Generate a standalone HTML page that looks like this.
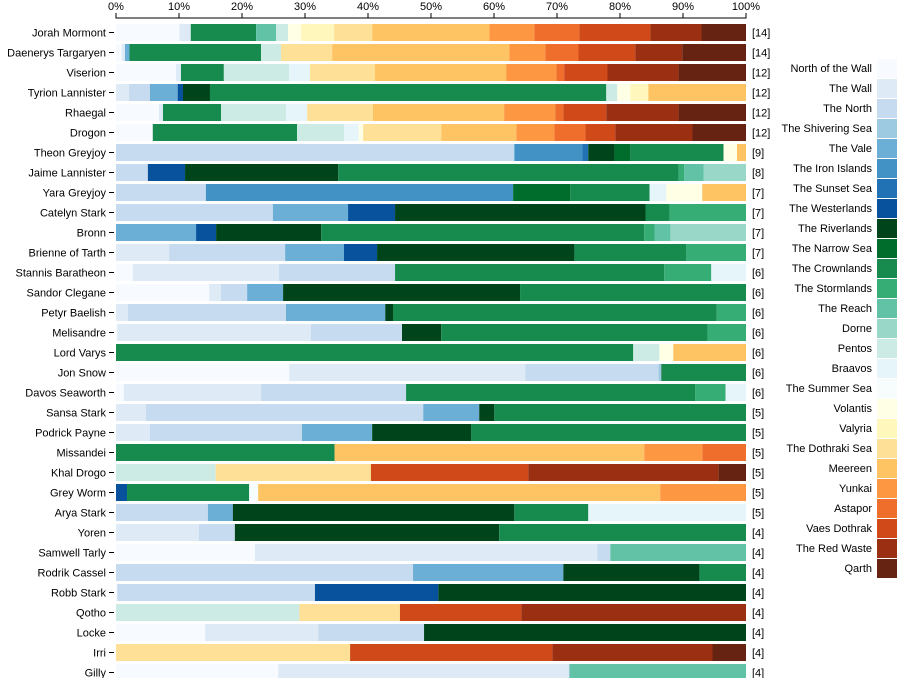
<!DOCTYPE html>
<html><head><meta charset="utf-8"><style>
body{margin:0;background:#fff;}
svg{display:block;font-family:"Liberation Sans",Arial,sans-serif;font-size:11px;}
</style></head><body>
<svg id="chart" width="913" height="678"></svg>
<script>
const characters=["Jorah Mormont","Daenerys Targaryen","Viserion","Tyrion Lannister","Rhaegal","Drogon","Theon Greyjoy","Jaime Lannister","Yara Greyjoy","Catelyn Stark","Bronn","Brienne of Tarth","Stannis Baratheon","Sandor Clegane","Petyr Baelish","Melisandre","Lord Varys","Jon Snow","Davos Seaworth","Sansa Stark","Podrick Payne","Missandei","Khal Drogo","Grey Worm","Arya Stark","Yoren","Samwell Tarly","Rodrik Cassel","Robb Stark","Qotho","Locke","Irri","Gilly"];
const counts=[14,14,12,12,12,12,9,8,7,7,7,7,6,6,6,6,6,6,6,5,5,5,5,5,5,4,4,4,4,4,4,4,4];
const locations=["North of the Wall","The Wall","The North","The Shivering Sea","The Vale","The Iron Islands","The Sunset Sea","The Westerlands","The Riverlands","The Narrow Sea","The Crownlands","The Stormlands","The Reach","Dorne","Pentos","Braavos","The Summer Sea","Volantis","Valyria","The Dothraki Sea","Meereen","Yunkai","Astapor","Vaes Dothrak","The Red Waste","Qarth"];
const colors=["#f7fbff","#deebf7","#c6dbef","#9ecae1","#6baed6","#4292c6","#2171b5","#08519c","#00441b","#006d2c","#168b4d","#37ad76","#62c2a5","#99d8c9","#ccebe5","#e5f5f9","#f7fcfd","#ffffe5","#fff7bc","#fee096","#fec463","#fe9741","#ef6e2c","#cf4919","#9a2f12","#662311"];
// segments per character: [locationIndex, relative share]
const segments=[
[[0,155],[1,28],[10,160],[12,49],[14,29],[17,32],[18,81],[19,93],[20,287],[21,110],[22,110],[23,174],[24,125],[25,109]],
[[0,14],[1,8],[4,11],[10,322],[14,49],[19,125],[20,434],[21,88],[22,81],[23,139],[24,115],[25,156]],
[[0,147],[1,12],[10,105],[14,160],[15,51],[19,159],[20,321],[21,123],[22,19],[23,106],[24,174],[25,165]],
[[1,32],[2,51],[4,68],[7,13],[8,66],[10,970],[14,27],[17,32],[18,44],[20,239]],
[[0,105],[1,10],[10,142],[14,159],[15,52],[19,161],[20,321],[21,125],[22,20],[23,105],[24,177],[25,165]],
[[0,90],[10,353],[14,115],[15,36],[17,11],[19,191],[20,184],[21,93],[22,76],[23,73],[24,189],[25,131]],
[[2,975],[5,166],[6,15],[8,64],[9,39],[10,228],[17,33],[20,22]],
[[2,78],[7,91],[8,375],[10,833],[11,14],[12,47],[13,104]],
[[2,220],[5,752],[9,140],[10,194],[15,41],[17,88],[20,107]],
[[2,384],[4,184],[7,115],[8,613],[10,59],[11,187]],
[[4,196],[7,49],[8,257],[10,791],[11,25],[12,39],[13,185]],
[[1,130],[2,284],[4,144],[7,81],[8,483],[10,274],[11,146]],
[[0,41],[1,358],[2,284],[10,659],[11,115],[15,85]],
[[0,228],[1,29],[2,64],[4,88],[8,580],[10,553]],
[[1,29],[2,387],[4,243],[8,19],[10,792],[11,72]],
[[0,3],[1,474],[2,223],[8,96],[10,652],[11,94]],
[[10,1266],[14,64],[17,34],[20,178]],
[[0,424],[1,578],[2,326],[3,7],[9,3],[10,204]],
[[0,19],[1,336],[2,355],[10,708],[11,74],[15,50]],
[[1,73],[2,679],[4,137],[8,37],[10,616]],
[[1,83],[2,372],[4,172],[8,242],[10,673]],
[[10,535],[20,758],[21,142],[22,107]],
[[14,244],[19,380],[23,385],[24,466],[25,67]],
[[7,27],[10,299],[16,22],[20,984],[21,210]],
[[2,225],[4,61],[8,689],[10,181],[15,386]],
[[1,203],[2,88],[8,647],[10,604]],
[[0,340],[1,838],[2,32],[12,332]],
[[2,727],[4,368],[8,333],[10,114]],
[[0,3],[2,484],[7,302],[8,753]],
[[14,449],[19,246],[23,297],[24,550]],
[[0,218],[1,277],[2,259],[8,788]],
[[19,573],[23,495],[24,392],[25,82]],
[[0,397],[1,711],[2,2],[12,432]]
];
const xTicks=[0,10,20,30,40,50,60,70,80,90,100];

const NS="http://www.w3.org/2000/svg";
const svg=document.getElementById('chart');
const X0=116,W=630,Y0=24,PITCH=20,BH=17;
function xScale(p){return X0+p/100*W;}
function yScale(i){return Y0+i*PITCH;}
function mk(tag,attrs,parent){const e=document.createElementNS(NS,tag);for(const k in attrs)e.setAttribute(k,attrs[k]);(parent||svg).appendChild(e);return e;}

// x axis
const axis=mk('g',{});


mk('path',{d:`M${X0},13V18H${X0+W}V13`,fill:'none',stroke:'#000','stroke-width':1},axis);
xTicks.forEach(t=>{
  const x=xScale(t);
  const ln=mk('line',{x1:x,x2:x,y1:13,y2:18,stroke:'#000'},axis);
  
  
  const tx=mk('text',{x:x,y:10,'text-anchor':'middle'},axis);
  tx.textContent=t+'%';
  
  
});

// rows
characters.forEach((name,i)=>{
  const y=yScale(i);
  const g=mk('g',{});
  
  
  const total=segments[i].reduce((s,d)=>s+d[1],0);
  let acc=0;
  segments[i].forEach(([li,v])=>{
    const x1=xScale(acc/total*100);acc+=v;
    const x2=xScale(acc/total*100);
    const r=mk('rect',{x:x1,y:y,width:Math.max(0,x2-x1),height:BH,fill:colors[li]},g);
    
    
  });
  const tk=mk('line',{x1:109,x2:114,y1:y+8.5,y2:y+8.5,stroke:'#000'},g);
  
  
  const lb=mk('text',{x:106,y:y+12.5,'text-anchor':'end'},g);
  lb.textContent=name;
  
  
  const ct=mk('text',{x:752,y:y+12.5},g);
  ct.textContent='['+counts[i]+']';
  
  
});

// legend
const lg=mk('g',{});


locations.forEach((loc,k)=>{
  const y=59+k*20;
  const sw=mk('rect',{x:877,y:y,width:20,height:19,fill:colors[k]},lg);
  
  
  const t=mk('text',{x:872,y:y+13,'text-anchor':'end'},lg);
  t.textContent=loc;
  
  
});
</script>
</body></html>
